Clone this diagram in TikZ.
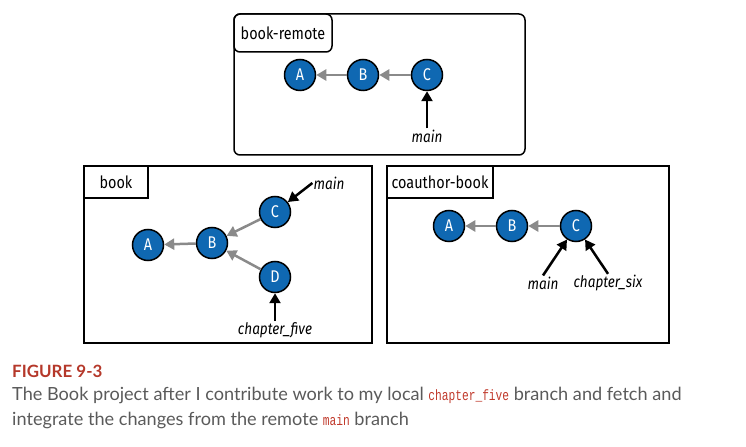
\documentclass[tikz,border=0pt]{standalone}
\usepackage{fontspec}
\setmainfont{Fira Sans}[FakeStretch=0.85]
\newfontfamily\capfont{Lato}
\setmonofont{Liberation Mono}[FakeStretch=0.75]
\usepackage{tikz}
\usetikzlibrary{arrows.meta}
\definecolor{commitblue}{HTML}{0F68B2}
\definecolor{parentgray}{HTML}{8A8A8A}
\definecolor{figred}{HTML}{B5382A}
\definecolor{codered}{HTML}{C0392B}
\definecolor{capgray}{HTML}{5A5A5A}

\begin{document}
\begin{tikzpicture}[x=1bp,y=1bp]
\tikzstyle{commit}=[circle,draw=black,line width=1.5bp,fill=commitblue,minimum size=31bp,inner sep=0pt,text=white,font=\fontsize{17}{20}\selectfont]
\tikzstyle{parent}=[parentgray,line width=2.5bp,-{Triangle[length=10bp,width=11bp]}]
\tikzstyle{ptr}=[black,line width=2.5bp,-{Triangle[length=10bp,width=11bp]}]
\tikzstyle{branch}=[font=\itshape\fontsize{16}{19}\selectfont,inner sep=1bp]
\tikzstyle{repo}=[draw,line width=1.5bp]
\tikzstyle{repotext}=[font=\fontsize{17}{20}\selectfont,inner sep=0pt]
\tikzstyle{captext}=[anchor=west,inner sep=0pt,text=capgray,font=\capfont\fontsize{18.2}{21}\selectfont]
\useasboundingbox (0,0) rectangle (746,-447);
\draw[repo,rounded corners=6bp] (234,-14) rectangle (525,-155);
\draw[repo,rounded corners=6bp] (234,-14) rectangle (332,-52);
\node[repotext] (rlbl) at (283,-33) {book-remote};
\node[commit] (ra) at (300,-75) {A};
\node[commit] (rb) at (363,-75) {B};
\node[commit] (rc) at (427,-75) {C};
\node[branch] (rmain) at (427,-136) {main};
\draw[parent] (rb) -- (ra);
\draw[parent] (rc) -- (rb);
\draw[ptr] (rmain.north) -- (rc);
\draw[repo] (84,-166) rectangle (372,-343);
\draw[repo] (84,-166) rectangle (148,-198);
\node[repotext] (blbl) at (116,-182) {book};
\node[commit] (ba) at (148,-245) {A};
\node[commit] (bb) at (212,-243) {B};
\node[commit] (bc) at (275,-212) {C};
\node[commit] (bd) at (275,-277) {D};
\node[branch] (bmain) at (329,-183) {main};
\node[branch] (bfive) at (275,-330) {chapter\_five};
\draw[parent] (bb) -- (ba);
\draw[parent] (bc) -- (bb);
\draw[parent] (bd) -- (bb);
\draw[ptr] (bmain.west) -- (bc);
\draw[ptr] (bfive.north) -- (bd);
\draw[repo] (387,-166) rectangle (669,-343);
\draw[repo] (387,-166) rectangle (493,-198);
\node[repotext] (clbl) at (440,-182) {coauthor-book};
\node[commit] (ca) at (449,-226) {A};
\node[commit] (cb) at (512,-226) {B};
\node[commit] (cc) at (576,-226) {C};
\node[branch] (cmain) at (543,-283) {main};
\node[branch] (csix) at (608,-283) {chapter\_six};
\draw[parent] (cb) -- (ca);
\draw[parent] (cc) -- (cb);
\draw[ptr] (cmain.north) -- (cc);
\draw[ptr] (csix.north) -- (cc);
\node[anchor=west,inner sep=0pt,text=figred,font=\capfont\bfseries\fontsize{17}{20}\selectfont] (fig) at (12,-371) {FIGURE 9-3};
\node[captext] (cap1) at (12,-395) {The Book project after I contribute work to my local {\ttfamily\fontsize{15}{18}\selectfont\color{codered}chapter\_five} branch and fetch and};
\node[captext] (cap2) at (12,-420) {integrate the changes from the remote {\ttfamily\fontsize{15}{18}\selectfont\color{codered}main} branch};
\end{tikzpicture}
\end{document}
